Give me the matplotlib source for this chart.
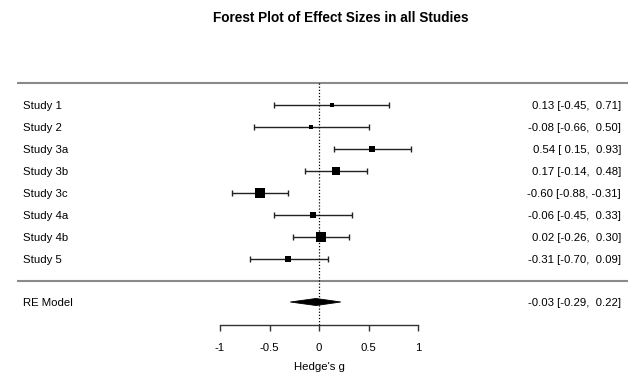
import matplotlib
matplotlib.use("Agg")
import matplotlib.pyplot as plt
import numpy as np

studies = ["Study 1", "Study 2", "Study 3a", "Study 3b", "Study 3c", "Study 4a", "Study 4b", "Study 5"]
est = [0.13, -0.08, 0.54, 0.17, -0.60, -0.06, 0.02, -0.31]
lower = [-0.45, -0.66, 0.15, -0.14, -0.88, -0.45, -0.26, -0.70]
upper = [0.71, 0.50, 0.93, 0.48, -0.31, 0.33, 0.30, 0.09]
psize = [0.35, 0.4, 0.75, 0.9, 1.0, 0.75, 1.0, 0.75]
re_label = "RE Model"
re_est, re_lo, re_hi = -0.03, -0.29, 0.22
xticks = [-1, -0.5, 0, 0.5, 1]
xtick_labels = ["-1", "-0.5", "0", "0.5", "1"]
title = "Forest Plot of Effect Sizes in all Studies"
xlabel = "Hedge's g"

plt.rcParams['font.family'] = ['Liberation Sans', 'DejaVu Sans']

W, H = 634, 377
fig = plt.figure(figsize=(W / 100, H / 100), dpi=100)
ax = fig.add_axes([0, 0, 1, 1])
x0px, sx = 319, 99.0
y0px, sy = 105, 22.0
ax.set_xlim(-x0px / sx, (W - x0px) / sx)
ax.set_ylim((H - y0px) / sy, -y0px / sy)

fs = 8.2
xl_txt = (23 - x0px) / sx
xr_txt = (621 - x0px) / sx
xl_line = (17 - x0px) / sx
xr_line = (628 - x0px) / sx

def fmt(v):
    return f"{v:.2f}" if v < 0 else f" {v:.2f}"

def ci_text(e, lo, hi):
    return f"{e:.2f} [{fmt(lo)}, {fmt(hi)}]"

for i, (s, e, lo, hi, p) in enumerate(zip(studies, est, lower, upper, psize)):
    ax.errorbar([e], [i], xerr=[[e - lo], [hi - e]], fmt='none', ecolor='#222222',
                elinewidth=1.0, capsize=2.2, capthick=1.0)
    ax.plot([e], [i], marker='s', color='black', markersize=6.5 * p, markeredgewidth=0)
    ax.text(xl_txt, i + 0.03, s, ha='left', va='center', fontsize=fs)
    ax.text(xr_txt, i + 0.03, ci_text(e, lo, hi), ha='right', va='center', fontsize=fs)

re_row = (302 - y0px) / sy
dh = 0.16
ax.fill([re_lo, re_est, re_hi, re_est], [re_row, re_row - dh, re_row, re_row + dh],
        color='black', lw=0.6, ec='black')
ax.text(xl_txt, re_row + 0.03, re_label, ha='left', va='center', fontsize=fs)
ax.text(xr_txt, re_row + 0.03, ci_text(re_est, re_lo, re_hi), ha='right', va='center', fontsize=fs)

top_row = (83 - y0px) / sy
bot_row = (281 - y0px) / sy
axis_row = (325 - y0px) / sy
for r in (top_row, bot_row):
    ax.plot([xl_line, xr_line], [r, r], color='#8a8a8a', lw=1.5, solid_capstyle='butt')
ax.plot([0, 0], [top_row, axis_row], color='black', lw=0.9, ls=(0, (1, 1.5)))

for sp in ['top', 'right', 'left']:
    ax.spines[sp].set_visible(False)
ax.spines['bottom'].set_position(('data', axis_row))
ax.spines['bottom'].set_bounds(xticks[0], xticks[-1])
ax.spines['bottom'].set_color('#333333')
ax.spines['bottom'].set_linewidth(1.0)
ax.set_yticks([])
ax.set_xticks(xticks)
ax.set_xticklabels(xtick_labels)
ax.tick_params(axis='x', direction='out', length=4.5, width=1.0, color='#333333',
               labelsize=fs, pad=8.5)
ax.text(0, (367 - y0px) / sy, xlabel, ha='center', va='center', fontsize=fs)
ax.text((341 - x0px) / sx, (17.5 - y0px) / sy, title, ha='center', va='center',
        fontsize=9.8, fontweight='bold')
ax.patch.set_visible(False)

fig.savefig("out.png", dpi=100)
